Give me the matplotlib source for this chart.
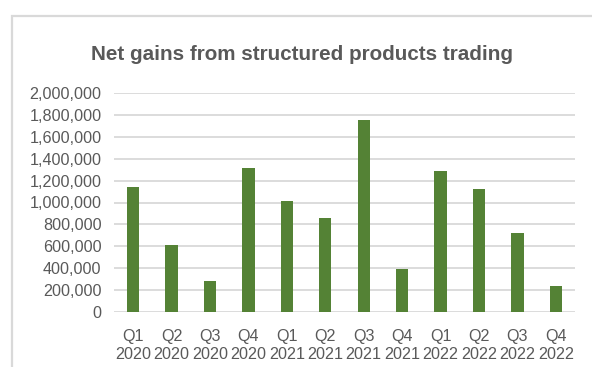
import numpy as np
import matplotlib
matplotlib.use('Agg')
import matplotlib.pyplot as plt
from matplotlib.patches import Rectangle
from matplotlib.ticker import FuncFormatter, MultipleLocator

plt.rcParams['font.family'] = ['Liberation Sans', 'DejaVu Sans']

quarters = ["Q1", "Q2", "Q3", "Q4"] * 3
years = ["2020"] * 4 + ["2021"] * 4 + ["2022"] * 4
net_gains = [1141000, 612000, 280000, 1318000,
             1014000, 858000, 1756000, 393000,
             1285000, 1120000, 721000, 235000]

W, H = 592, 367
fig = plt.figure(figsize=(W / 100, H / 100), dpi=100)

# chart frame, running off the right and bottom edges
fig.patches.append(Rectangle((11.5 / W, -0.1), 1.2, 1 - 15.5 / H + 0.1,
                             transform=fig.transFigure, fill=False,
                             edgecolor='#d9d9d9', linewidth=1.6))

ax = fig.add_axes([114 / W, 1 - 312 / H, 461 / W, 219 / H])
x = np.arange(len(net_gains))
ax.bar(x, net_gains, width=0.32, color='#548235', zorder=3)

ax.set_xlim(-0.5, len(net_gains) - 0.5)
ax.set_ylim(0, 2000000)
ax.yaxis.set_major_locator(MultipleLocator(200000))
ax.yaxis.set_major_formatter(FuncFormatter(lambda v, p: f"{int(v):,}"))
ax.grid(axis='y', color='#d9d9d9', linewidth=1.3, zorder=0)
for s in ax.spines.values():
    s.set_visible(False)
ax.tick_params(length=0, labelsize=11.6, labelcolor='#595959')
ax.tick_params(axis='y', pad=9)
ax.tick_params(axis='x', pad=12)
ax.set_xticks(x)
ax.set_xticklabels([f"{q}\n{y}" for q, y in zip(quarters, years)],
                   linespacing=1.3)

fig.text(0.5 + 12 / W / 2, 1 - 55 / H, "Net gains from structured products trading",
         ha='center', va='center', fontsize=14.9, fontweight='bold', color='#595959')

fig.savefig('out.png', dpi=100)
